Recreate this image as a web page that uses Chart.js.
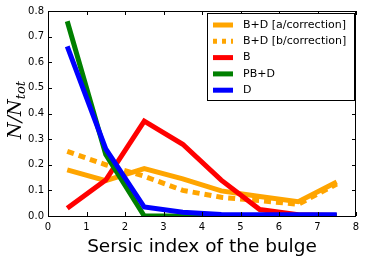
<!DOCTYPE html>
<html>
<head>
<meta charset="utf-8">
<script src="https://cdn.jsdelivr.net/npm/chart.js@4/dist/chart.umd.min.js"></script>
<style>
  html, body { margin: 0; padding: 0; background: #fff; }
  #wrap { width: 366px; height: 258px; }
</style>
</head>
<body>
<div id="wrap"><canvas id="chart" width="366" height="258"></canvas></div>
<script>
const sersicBins = [0.5, 1.5, 2.5, 3.5, 4.5, 5.5, 6.5, 7.5];
const bdA = [0.18, 0.138, 0.185, 0.145, 0.098, 0.076, 0.056, 0.133];
const bdB = [0.252, 0.2, 0.155, 0.1, 0.073, 0.06, 0.046, 0.125];
const bulge = [0.03, 0.14, 0.37, 0.28, 0.14, 0.025, 0.005, 0.002];
const pbd = [0.76, 0.24, 0.0, 0.0, 0.0, 0.0, 0.0, 0.0];
const disk = [0.662, 0.262, 0.035, 0.015, 0.006, 0.005, 0.005, 0.005];
const xTicks = [0, 1, 2, 3, 4, 5, 6, 7, 8];
const yTicks = [0.0, 0.1, 0.2, 0.3, 0.4, 0.5, 0.6, 0.7, 0.8];

const pts = arr => arr.map((v, i) => ({ x: sersicBins[i], y: v }));

const series = [
  { label: 'B+D [a/correction]', data: bdA, color: '#FFA500', dash: [], order: 4 },
  { label: 'B+D [b/correction]', data: bdB, color: '#FFA500', dash: [7, 5], order: 3 },
  { label: 'B', data: bulge, color: '#FF0000', dash: [], order: 2 },
  { label: 'PB+D', data: pbd, color: '#008000', dash: [], order: 1 },
  { label: 'D', data: disk, color: '#0000FF', dash: [], order: 0 }
];

// inward ticks on all four sides, matplotlib style
const frameTicks = {
  id: 'frameTicks',
  afterDraw(chart) {
    const { ctx, chartArea: a, scales: { x, y } } = chart;
    ctx.save();
    ctx.strokeStyle = '#000';
    ctx.lineWidth = 1;
    ctx.beginPath();
    xTicks.forEach(t => {
      const px = Math.round(x.getPixelForValue(t)) + 0.5;
      ctx.moveTo(px, a.bottom); ctx.lineTo(px, a.bottom - 4);
      ctx.moveTo(px, a.top); ctx.lineTo(px, a.top + 4);
    });
    yTicks.forEach(t => {
      const py = Math.round(y.getPixelForValue(t)) + 0.5;
      ctx.moveTo(a.left, py); ctx.lineTo(a.left + 4, py);
      ctx.moveTo(a.right, py); ctx.lineTo(a.right - 4, py);
    });
    ctx.stroke();
    ctx.strokeRect(a.left + 0.5, a.top + 0.5, a.right - a.left - 1, a.bottom - a.top);

    // y axis title: N/N_tot
    ctx.save();
    ctx.translate(21, 110);
    ctx.rotate(-Math.PI / 2);
    ctx.fillStyle = '#000';
    ctx.textBaseline = 'alphabetic';
    const main = 'N/N';
    ctx.font = 'italic 19px "DejaVu Serif"';
    const w1 = ctx.measureText(main).width;
    ctx.font = 'italic 13px "DejaVu Serif"';
    const w2 = ctx.measureText('tot').width;
    const start = -(w1 + w2) / 2;
    ctx.font = 'italic 19px "DejaVu Serif"';
    ctx.fillText(main, start, 0);
    ctx.font = 'italic 13px "DejaVu Serif"';
    ctx.fillText('tot', start + w1, 4);
    ctx.restore();

    // legend box
    const lx = 207, ly = 13, lw = 147, lh = 87;
    ctx.fillStyle = '#fff';
    ctx.fillRect(lx, ly, lw, lh);
    ctx.strokeStyle = '#000';
    ctx.strokeRect(lx + 0.5, ly + 0.5, lw, lh);
    ctx.font = '11px "DejaVu Sans"';
    ctx.textBaseline = 'middle';
    series.forEach((s, i) => {
      const cy = 25 + i * 16.3;
      ctx.strokeStyle = s.color;
      ctx.lineWidth = 5;
      ctx.setLineDash(s.dash.length ? [4, 5] : []);
      ctx.beginPath();
      ctx.moveTo(213, cy); ctx.lineTo(233, cy);
      ctx.stroke();
      ctx.setLineDash([]);
      ctx.fillStyle = '#000';
      ctx.fillText(s.label, 243, cy);
    });
    ctx.restore();
  }
};

new Chart(document.getElementById('chart').getContext('2d'), {
  type: 'line',
  data: {
    datasets: series.map(s => ({
      label: s.label,
      data: pts(s.data),
      borderColor: s.color,
      backgroundColor: s.color,
      borderWidth: 5,
      borderDash: s.dash,
      pointRadius: 0,
      tension: 0,
      fill: false,
      clip: 0,
      order: s.order
    }))
  },
  options: {
    responsive: false,
    animation: false,
    layout: { padding: { left: 0, top: 11, right: 10, bottom: 0 } },
    plugins: { legend: { display: false }, tooltip: { enabled: false } },
    scales: {
      x: {
        type: 'linear',
        min: 0, max: 8,
        afterFit: s => { s.height = 42; },
        afterBuildTicks: s => { s.ticks = xTicks.map(v => ({ value: v })); },
        grid: { display: false, drawTicks: false },
        border: { display: false },
        ticks: { color: '#000', padding: 5, font: { family: 'DejaVu Sans', size: 10 }, maxRotation: 0 },
        title: {
          display: true,
          text: 'Sersic index of the bulge',
          color: '#000',
          font: { family: 'DejaVu Sans', size: 18.5 },
          padding: { top: 0, bottom: 0 }
        }
      },
      y: {
        min: 0, max: 0.8,
        afterFit: s => { s.width = 48; },
        afterBuildTicks: s => { s.ticks = yTicks.map(v => ({ value: v })); },
        grid: { display: false, drawTicks: false },
        border: { display: false },
        ticks: {
          color: '#000', padding: 4,
          font: { family: 'DejaVu Sans', size: 10 },
          callback: v => v.toFixed(1)
        }
      }
    }
  },
  plugins: [frameTicks]
});
</script>
</body>
</html>
